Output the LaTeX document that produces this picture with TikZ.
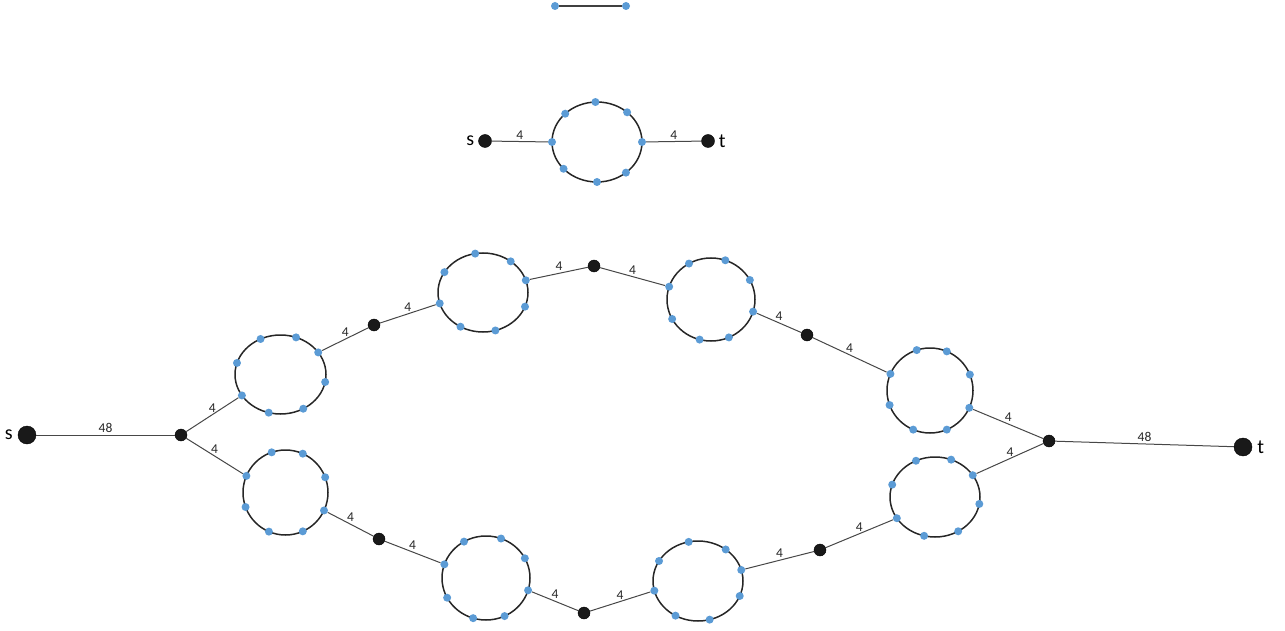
\documentclass[tikz,border=0pt]{standalone}
\usepackage{fontspec}
\setmainfont{Carlito}
\usepackage{tikz}
\usetikzlibrary{positioning}
\usetikzlibrary{calc}

\definecolor{dotblue}{HTML}{5B9BD5}
\definecolor{edgegray}{HTML}{474747}

\tikzset{
  bluedot/.style={circle, fill=dotblue, inner sep=0pt, minimum size=8pt},
  junction/.style={circle, draw=black, fill=black!90, inner sep=0pt, minimum size=12pt},
  endnode/.style={circle, draw=black, fill=black!90, inner sep=0pt, minimum size=13pt},
  bigend/.style={circle, draw=black, fill=black!90, inner sep=0pt, minimum size=18pt},
  ringline/.style={draw=black!85, line width=1.5pt},
  edge/.style={draw=edgegray, line width=1pt},
  weight/.style={font=\fontsize{13.5}{15}\selectfont, inner sep=2pt, text=black!85},
  endlabel/.style={font=\fontsize{20}{23}\selectfont, inner sep=0pt}
}

% ring: name, centre x, centre y, x radius, y radius, dot angles
\newcommand{\ringgraph}[6]{%
  \draw[ringline] (#2,#3) ellipse [x radius=#4pt, y radius=#5pt];
  \foreach \a [count=\i] in {#6}
    \node[bluedot] (#1-\i) at ($(#2,#3)+(\a:#4pt and #5pt)$) {};
}

\begin{document}
\begin{tikzpicture}[x=1pt, y=-1pt]
  \useasboundingbox (0,0) rectangle (1285,631);

  % single edge
  \node[bluedot] (e1) at (555,6) {};
  \node[bluedot] (e2) at (626,6) {};
  \draw[edge, draw=black!75, line width=1.2pt] (e1) -- (e2);

  % small gadget
  \node[endnode] (s0) at (485,141) {};
  \node[endnode] (t0) at (708,141) {};
  \node[endlabel] (s0l) [left=4pt of s0] {s};
  \node[endlabel] (t0l) [right=4pt of t0] {t};
  \ringgraph{T}{597}{142}{45}{40}{0,48,92,135,180,222,270,310}
  \draw[edge] (s0) -- node[weight, above] {4} (T-5);
  \draw[edge] (T-1) -- node[weight, above] {4} (t0);

  % big gadget
  \node[bigend] (s) at (27,435) {};
  \node[bigend] (t) at (1243,447) {};
  \node[endlabel] (sl) [left=5pt of s] {s};
  \node[endlabel] (tl) [right=5pt of t] {t};
  \node[junction] (a) at (181,435) {};
  \node[junction] (j) at (1049,441) {};
  \node[junction] (b1) at (374,325) {};
  \node[junction] (c1) at (594,266) {};
  \node[junction] (d1) at (807,335) {};
  \node[junction] (b2) at (379,539) {};
  \node[junction] (c2) at (584,613) {};
  \node[junction] (d2) at (820,550) {};

  \ringgraph{U1}{280.5}{374.5}{45.5}{39.5}{116,70,34,-11,-60,-105,-148,163}
  \ringgraph{U2}{483}{292.5}{45}{39.5}{100,52,18,-21,-74,-120,-164,149}
  \ringgraph{U3}{711}{299.5}{44}{41.5}{120,71,28,-17,-66,-105,-152,162}
  \ringgraph{U4}{930}{390.5}{43}{42.5}{108,67,22,-24,-67,-113,-160,157}
  \ringgraph{L1}{285.5}{492.5}{42.5}{42.5}{109,66,21,-25,-66,-113,-160,157}
  \ringgraph{L2}{486}{578}{44}{42}{120,70,28,-17,-65,-107,-152,161}
  \ringgraph{L3}{698}{581}{45}{40}{102,52,16,-22,-75,-120,-166,150}
  \ringgraph{L4}{935}{497}{45}{40}{115,69,33,-10,-59,-104,-148,162}

  \draw[edge] (s) -- node[weight, above] {48} (a);
  \draw[edge] (j) -- node[weight, above] {48} (t);

  % upper path
  \draw[edge] (a) -- node[weight, above] {4} (U1-7);
  \draw[edge] (U1-3) -- node[weight, above] {4} (b1);
  \draw[edge] (b1) -- node[weight, above] {4} (U2-7);
  \draw[edge] (U2-3) -- node[weight, above] {4} (c1);
  \draw[edge] (c1) -- node[weight, above] {4} (U3-8);
  \draw[edge] (U3-4) -- node[weight, above] {4} (d1);
  \draw[edge] (d1) -- node[weight, above] {4} (U4-8);
  \draw[edge] (U4-4) -- node[weight, above] {4} (j);

  % lower path
  \draw[edge] (a) -- node[weight, above] {4} (L1-8);
  \draw[edge] (L1-4) -- node[weight, above] {4} (b2);
  \draw[edge] (b2) -- node[weight, above] {4} (L2-8);
  \draw[edge] (L2-4) -- node[weight, above] {4} (c2);
  \draw[edge] (c2) -- node[weight, above] {4} (L3-7);
  \draw[edge] (L3-3) -- node[weight, above] {4} (d2);
  \draw[edge] (d2) -- node[weight, above] {4} (L4-7);
  \draw[edge] (L4-3) -- node[weight, above] {4} (j);

\end{tikzpicture}
\end{document}
